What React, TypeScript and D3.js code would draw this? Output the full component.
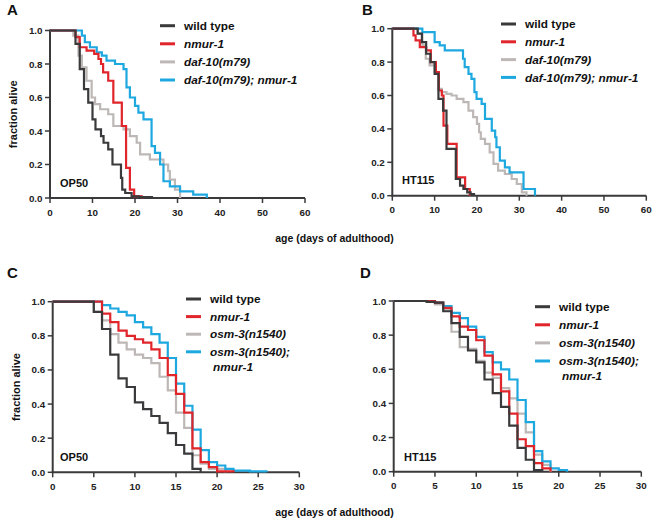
import React from 'react';
import * as d3 from 'd3';

type Pt = [number, number];

// panel A: OP50, daf-10
const wtA: Pt[] = [[0, 1], [6, 0.92], [7, 0.77], [8, 0.65], [9, 0.57], [10, 0.47], [10.7, 0.41], [12, 0.37], [12.6, 0.33], [13.7, 0.29], [14.7, 0.2], [16.7, 0.12], [17, 0.05], [17.7, 0.03], [19.2, 0.01], [21, 0.005], [24, 0]];
const nmurA: Pt[] = [[0, 1], [6, 0.96], [7, 0.9], [8.6, 0.88], [10.4, 0.86], [11.4, 0.83], [12, 0.8], [12.5, 0.75], [13.7, 0.7], [14.9, 0.57], [16.9, 0.43], [17.9, 0.18], [18.8, 0.05], [19.8, 0.01], [21.6, 0.005], [22, 0]];
const dafA: Pt[] = [[0, 1], [5.5, 0.97], [6.7, 0.85], [7.5, 0.78], [8.6, 0.7], [9.8, 0.6], [10.6, 0.56], [11.8, 0.53], [13.7, 0.5], [14.9, 0.43], [17.3, 0.41], [18.8, 0.37], [20.4, 0.33], [21.2, 0.26], [23.5, 0.23], [26.7, 0.2], [27.8, 0.16], [28.2, 0.11], [29.4, 0.05], [30.6, 0]];
const dafNmurA: Pt[] = [[0, 1], [7.5, 0.97], [8.2, 0.93], [9.4, 0.9], [11, 0.87], [12.2, 0.85], [13.3, 0.82], [15.3, 0.8], [17.3, 0.77], [18, 0.66], [18.8, 0.6], [20, 0.55], [20.8, 0.51], [22, 0.47], [23.9, 0.31], [24.7, 0.27], [25.9, 0.2], [26.7, 0.1], [28.2, 0.07], [30.6, 0.04], [33.7, 0.02], [36.9, 0]];

// panel B: HT115, daf-10
const wtB: Pt[] = [[0, 1], [6, 0.97], [7, 0.92], [8, 0.85], [9, 0.8], [10, 0.73], [10.9, 0.58], [12, 0.51], [12.8, 0.28], [15, 0.1], [16, 0.06], [16.8, 0.04], [17.7, 0.02], [18.5, 0.01], [19.3, 0]];
const nmurB: Pt[] = [[0, 1], [5, 0.96], [5.5, 0.93], [6.5, 0.89], [8, 0.87], [9.1, 0.8], [10.3, 0.74], [11, 0.63], [11.7, 0.6], [12.1, 0.42], [13, 0.31], [15.2, 0.11], [17.2, 0.04], [18.3, 0]];
const dafB: Pt[] = [[0, 1], [6, 0.97], [7.1, 0.9], [7.9, 0.82], [8.8, 0.78], [10, 0.74], [10.9, 0.64], [11.7, 0.62], [12.8, 0.61], [14, 0.6], [15.2, 0.58], [16.8, 0.56], [18, 0.51], [19.1, 0.47], [20, 0.43], [20.5, 0.38], [20.9, 0.34], [21.9, 0.31], [23, 0.26], [23.9, 0.19], [25, 0.15], [26.6, 0.13], [28.2, 0.1], [29.4, 0.07], [30.6, 0.02], [31.7, 0]];
const dafNmurB: Pt[] = [[0, 1], [7.1, 0.98], [10, 0.92], [11.2, 0.9], [12.4, 0.87], [16.7, 0.82], [17.1, 0.77], [18, 0.73], [18.7, 0.7], [19.4, 0.62], [19.9, 0.58], [21.1, 0.55], [21.9, 0.46], [23.5, 0.39], [24.3, 0.35], [24.6, 0.29], [25.4, 0.21], [26.6, 0.17], [27.7, 0.14], [31, 0.04], [33.7, 0]];

// panel C: OP50, osm-3
const wtC: Pt[] = [[0, 1], [5, 0.94], [6, 0.84], [7, 0.69], [8, 0.55], [9, 0.5], [10, 0.41], [11, 0.37], [12, 0.33], [13, 0.29], [14, 0.23], [15, 0.16], [16, 0.11], [17, 0.02], [18, 0]];
const nmurC: Pt[] = [[0, 1], [6, 0.93], [7, 0.88], [8, 0.83], [9, 0.8], [10, 0.78], [11, 0.76], [12, 0.72], [13, 0.67], [14, 0.57], [15, 0.46], [16, 0.35], [17, 0.14], [18, 0.06], [19, 0.03], [20, 0.005], [22, 0]];
const osmC: Pt[] = [[0, 1], [5, 0.94], [6, 0.89], [7, 0.81], [8, 0.76], [9, 0.72], [10, 0.69], [11, 0.67], [12, 0.64], [13, 0.56], [14, 0.48], [15, 0.35], [16, 0.26], [17, 0.1], [18, 0.05], [19, 0.02], [21, 0]];
const osmNmurC: Pt[] = [[0, 1], [6, 0.98], [7, 0.96], [8, 0.94], [9, 0.92], [10, 0.88], [11, 0.85], [12, 0.81], [13, 0.76], [14, 0.67], [15, 0.52], [16, 0.39], [17, 0.25], [18, 0.13], [19, 0.06], [20, 0.04], [21, 0.02], [22, 0.01], [24, 0.005], [26, 0]];

// panel D: HT115, osm-3
const wtD: Pt[] = [[0, 1], [4, 0.995], [5, 0.99], [6, 0.94], [7, 0.87], [8, 0.79], [9, 0.71], [10, 0.64], [11, 0.54], [12, 0.46], [13, 0.38], [14, 0.27], [15, 0.14], [16, 0.07], [17, 0.01], [18, 0]];
const nmurD: Pt[] = [[0, 1], [5, 0.99], [6, 0.96], [7, 0.91], [8, 0.85], [9, 0.83], [10, 0.77], [11, 0.68], [12, 0.57], [13, 0.47], [14, 0.34], [15, 0.19], [16, 0.15], [17, 0.05], [18, 0.02], [19, 0]];
const osmD: Pt[] = [[0, 1], [4, 0.995], [5, 0.98], [6, 0.95], [7, 0.82], [8, 0.73], [9, 0.72], [10, 0.65], [11, 0.58], [12, 0.55], [13, 0.49], [14, 0.43], [15, 0.34], [16, 0.23], [17, 0.1], [18, 0.04], [19, 0]];
const osmNmurD: Pt[] = [[0, 1], [5, 0.99], [6, 0.97], [7, 0.93], [8, 0.9], [9, 0.85], [10, 0.79], [11, 0.7], [12, 0.64], [13, 0.6], [14, 0.54], [15, 0.42], [16, 0.29], [17, 0.12], [18, 0.06], [19, 0.02], [20, 0.01], [21, 0]];

const yTicks = [0, 0.2, 0.4, 0.6, 0.8, 1.0];
const xTicksWide = [0, 10, 20, 30, 40, 50, 60];
const xTicksNarrow = [0, 5, 10, 15, 20, 25, 30];

const legendDaf = ['wild type', 'nmur-1', 'daf-10(m79)', 'daf-10(m79); nmur-1'];
const legendOsm = ['wild type', 'nmur-1', 'osm-3(n1540)', 'osm-3(n1540);'];

const colors = ['#3a3a3c', '#e0252b', '#bdb8b6', '#1ea8e0'];
const FONT = 'Liberation Sans, Arial, sans-serif';
const axisCol = '#3a3a3c';

type PanelProps = {
  letter: string;
  letterPos: [number, number];
  left: number; right: number; top: number; bottom: number;
  xTicks: number[];
  series: Pt[][];
  legend: string[];
  legendPos: [number, number];
  legendStep: number;
  food: string;
  foodPos: [number, number];
  yLabel: boolean;
};

const Panel = (p: PanelProps) => {
  const x = d3.scaleLinear().domain([0, p.xTicks[p.xTicks.length - 1]]).range([p.left, p.right]);
  const y = d3.scaleLinear().domain([0, 1]).range([p.bottom, p.top]);
  const line = d3.line<Pt>().x(d => x(d[0])).y(d => y(d[1])).curve(d3.curveStepAfter);
  const drawOrder = [2, 3, 1, 0];
  const [lx, ly] = p.legendPos;
  return (
    <g>
      <text x={p.letterPos[0]} y={p.letterPos[1]} fontSize={15} fontWeight="bold" fill="#111">{p.letter}</text>
      {/* axes */}
      <line x1={p.left} x2={p.left} y1={p.top - 1} y2={p.bottom} stroke={axisCol} strokeWidth={2} />
      <line x1={p.left - 1} x2={p.right} y1={p.bottom} y2={p.bottom} stroke={axisCol} strokeWidth={2} />
      {yTicks.map(t => (
        <g key={'y' + t}>
          <line x1={p.left - 5} x2={p.left} y1={y(t)} y2={y(t)} stroke={axisCol} strokeWidth={1.5} />
          <text x={p.left - 7.5} y={y(t) + 3.5} fontSize={9.8} fontWeight="bold" textAnchor="end" fill="#222">{d3.format('.1f')(t)}</text>
        </g>
      ))}
      {p.xTicks.map(t => (
        <g key={'x' + t}>
          <line x1={x(t)} x2={x(t)} y1={p.bottom} y2={p.bottom + 5} stroke={axisCol} strokeWidth={1.5} />
          <text x={x(t)} y={p.bottom + 17.5} fontSize={9.8} fontWeight="bold" textAnchor="middle" fill="#222">{t}</text>
        </g>
      ))}
      {p.yLabel && (
        <text transform={`translate(${p.left - 33},${(p.top + p.bottom) / 2}) rotate(-90)`} fontSize={11} fontWeight="bold" textAnchor="middle" fill="#111">fraction alive</text>
      )}
      {drawOrder.map(i => (
        <path key={'s' + i} d={line(p.series[i]) || ''} fill="none" stroke={colors[i]} strokeWidth={2.2} />
      ))}
      <text x={p.foodPos[0]} y={p.foodPos[1]} fontSize={11} fontWeight="bold" fill="#111">{p.food}</text>
      {p.legend.map((lab, i) => (
        <g key={'l' + i}>
          <line x1={lx} x2={lx + 15} y1={ly + i * p.legendStep} y2={ly + i * p.legendStep} stroke={colors[i]} strokeWidth={3} />
          <text x={lx + 24} y={ly + i * p.legendStep + 4.2} fontSize={11.8} fontWeight="bold" fontStyle={i === 0 ? 'normal' : 'italic'} fill="#111">{lab}</text>
        </g>
      ))}
      {p.legend[3].endsWith(';') && (
        <text x={lx + 27} y={ly + 3 * p.legendStep + 19.2} fontSize={11.8} fontWeight="bold" fontStyle="italic" fill="#111">nmur-1</text>
      )}
    </g>
  );
};

const App = () => {
  return (
    <svg width={656} height={521} style={{ position: 'absolute', left: 0, top: 0, background: '#fff' }} fontFamily={FONT}>
      <Panel letter="A" letterPos={[7, 15]} left={50} right={305} top={30.5} bottom={198}
        xTicks={xTicksWide} series={[wtA, nmurA, dafA, dafNmurA]} legend={legendDaf}
        legendPos={[160, 25.7]} legendStep={18.1} food="OP50" foodPos={[60, 187]} yLabel={true} />
      <Panel letter="B" letterPos={[362, 15]} left={392.3} right={646.3} top={28.7} bottom={195.7}
        xTicks={xTicksWide} series={[wtB, nmurB, dafB, dafNmurB]} legend={legendDaf}
        legendPos={[501, 24]} legendStep={17.8} food="HT115" foodPos={[402, 184]} yLabel={false} />
      <Panel letter="C" letterPos={[7, 278]} left={52.7} right={299.3} top={301.7} bottom={472.3}
        xTicks={xTicksNarrow} series={[wtC, nmurC, osmC, osmNmurC]} legend={legendOsm}
        legendPos={[186, 299]} legendStep={17.6} food="OP50" foodPos={[60, 461]} yLabel={true} />
      <Panel letter="D" letterPos={[360, 278]} left={393.7} right={641.3} top={301} bottom={471.7}
        xTicks={xTicksNarrow} series={[wtD, nmurD, osmD, osmNmurD]} legend={legendOsm}
        legendPos={[535, 306.7]} legendStep={18.1} food="HT115" foodPos={[404, 461]} yLabel={false} />
      <text x={334.5} y={241.5} fontSize={10.5} fontWeight="bold" textAnchor="middle" fill="#111">age (days of adulthood)</text>
      <text x={334.5} y={515.5} fontSize={10.5} fontWeight="bold" textAnchor="middle" fill="#111">age (days of adulthood)</text>
    </svg>
  );
};

export default App;
